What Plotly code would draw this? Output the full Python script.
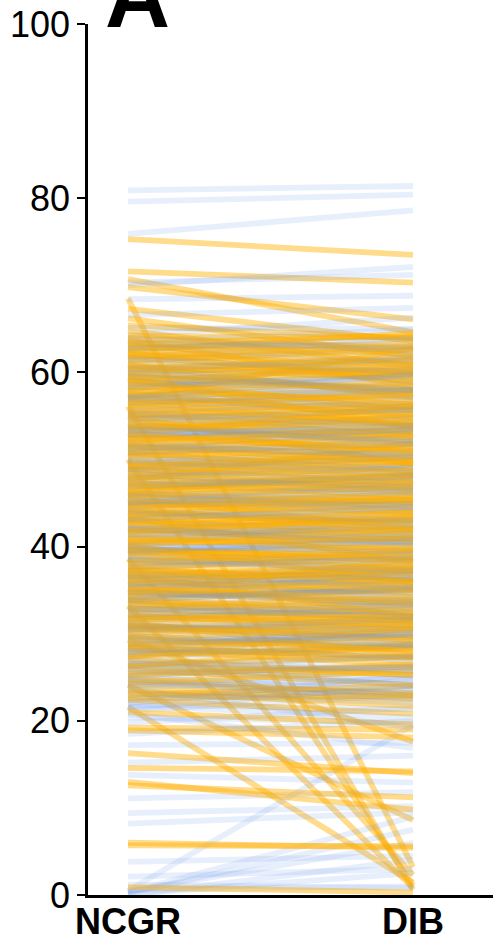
import plotly.graph_objects as go

# Paired scores per subject: value at NCGR and value at DIB
orange_ncgr = [75.3, 71.6, 70.7, 69.8, 68.5, 67.3, 66.2, 65.4, 64.8, 64.2, 63.7, 63.1, 62.8, 62.2,
               61.4, 60.9, 60.3, 59.8, 59.1, 58.7, 58.2, 57.6, 57.3, 56.6, 56.1, 55.7, 55.2, 54.6,
               54.1, 53.4, 53.0, 52.3, 51.9, 51.2, 50.8, 50.4, 50.0, 49.6, 49.1, 48.4, 47.9, 47.3,
               46.8, 46.2, 45.8, 45.1, 44.7, 44.0, 43.6, 43.1, 42.5, 42.0, 41.4, 40.9, 40.3, 39.8,
               39.2, 38.6, 38.1, 37.6, 37.0, 36.5, 36.0, 35.4, 34.9, 34.3, 33.8, 33.2, 32.7, 32.1,
               31.6, 31.0, 30.4, 29.8, 29.3, 28.8, 28.2, 27.7, 27.1, 26.5, 25.9, 25.4, 24.8, 24.1,
               23.6, 23.0, 22.4, 21.6, 21.0, 19.2, 18.9, 16.3, 14.6, 13.0, 12.6, 6.0, 5.7, 0.9,
               61.8, 58.9, 56.9, 53.7, 51.5, 48.9, 46.4, 44.3, 41.7, 39.5, 37.3, 35.7, 33.5, 30.9,
               28.5, 26.2, 24.4, 62.5, 57.0, 52.7, 47.6, 43.3, 40.1, 36.8, 34.6, 31.3, 27.3, 54.9,
               59.4, 45.5,
               63.4, 62.0, 60.6, 59.6, 57.9, 56.3, 55.4, 53.8, 52.5, 51.7, 50.6, 49.3, 48.1, 47.1,
               46.0, 44.9, 43.8, 42.8, 41.9, 40.6, 39.6, 38.4, 37.4, 36.2, 35.1, 33.9, 32.9, 31.8,
               30.6, 29.5, 28.4, 27.4, 26.3, 25.2, 24.2, 23.3, 22.6,
               64.0, 63.3, 62.6, 61.9, 61.1, 60.4, 59.9, 59.2, 58.5, 57.8, 57.1, 56.4, 55.9, 55.0,
               54.4, 53.6, 52.9, 52.1, 51.4, 50.7, 49.9, 49.2, 48.6, 47.7, 47.0, 46.3, 45.6, 44.8,
               44.2, 43.4, 42.7, 41.9, 41.1, 40.4, 39.7, 39.0, 38.2, 37.5, 36.7, 36.1, 35.3, 34.6,
               33.9, 33.1, 32.4, 31.7, 30.8, 30.1, 29.4, 28.7]
orange_dib = [73.5, 70.3, 64.6, 66.1, 3.2, 63.6, 61.8, 63.9, 60.7, 64.0, 58.4, 61.2, 63.3, 58.9,
              62.6, 57.1, 60.2, 61.4, 55.6, 58.3, 59.9, 54.8, 57.9, 53.9, 0.6, 56.4, 53.2, 55.8,
              51.7, 54.9, 51.0, 53.4, 50.2, 52.6, 48.7, 51.3, 1.1, 48.2, 50.7, 46.6, 49.1, 45.8,
              47.7, 44.6, 46.9, 43.9, 45.3, 42.8, 44.9, 41.6, 43.2, 40.4, 42.1, 39.5, 41.0, 38.3,
              40.1, 2.3, 37.0, 38.8, 35.4, 36.9, 34.7, 36.2, 33.3, 35.0, 32.1, 0.8, 33.6, 30.5,
              32.4, 29.3, 31.1, 28.1, 17.6, 29.7, 26.4, 28.3, 25.2, 27.4, 24.1, 26.2, 22.9, 8.6,
              22.4, 24.0, 20.8, 1.4, 19.6, 19.0, 18.1, 14.0, 14.2, 9.8, 11.2, 5.4, 5.6, 0.3,
              59.6, 60.8, 55.1, 52.5, 49.6, 47.3, 48.3, 41.9, 43.4, 37.6, 36.1, 37.4, 31.4, 32.0,
              27.2, 28.8, 25.7, 64.5, 62.8, 56.2, 51.9, 38.2, 35.9, 31.9, 38.6, 27.5, 30.7, 49.4,
              53.6, 42.1,
              62.1, 60.9, 59.3, 58.0, 56.7, 57.4, 54.0, 55.2, 51.3, 52.9, 49.5, 50.2, 47.0, 48.2,
              45.1, 46.0, 42.7, 43.9, 40.8, 41.9, 38.4, 39.6, 36.4, 37.2, 34.0, 35.1, 31.8, 33.0,
              29.6, 30.7, 27.3, 28.6, 25.3, 26.5, 23.2, 21.7, 22.9,
              62.7, 64.2, 60.2, 63.0, 59.8, 61.7, 57.7, 60.1, 56.3, 58.9, 55.9, 57.6, 54.4, 56.1,
              52.8, 54.2, 50.8, 53.7, 49.9, 52.0, 48.6, 47.9, 49.8, 46.4, 45.3, 47.4, 44.2, 43.5,
              45.6, 42.1, 41.2, 43.1, 39.7, 40.9, 38.8, 37.4, 39.3, 35.9, 37.8, 35.2, 33.6, 35.8,
              32.6, 34.2, 30.9, 31.6, 30.2, 31.4, 28.0, 29.1]

blue_ncgr = [80.9, 79.6, 75.9, 70.0, 70.3, 68.4, 66.6, 65.1, 64.3, 63.6, 62.9, 61.7, 61.0, 60.1,
             59.3, 58.4, 57.8, 56.9, 56.3, 55.4, 54.8, 53.9, 53.2, 52.6, 51.7, 51.0, 50.2, 49.4,
             48.7, 47.9, 47.1, 46.4, 45.6, 44.9, 44.1, 43.4, 42.7, 41.9, 41.2, 40.5, 39.7, 38.9,
             38.3, 37.4, 36.8, 36.0, 35.2, 34.5, 33.7, 33.0, 32.3, 31.5, 30.8, 30.0, 29.2, 28.5,
             27.8, 27.0, 26.3, 25.5, 24.8, 24.0, 23.3, 22.6, 21.9, 21.2, 20.4, 17.2, 15.2, 11.1,
             9.4, 3.8, 2.1, 0.5, 0.3, 0.2, 0.4, 0.0, 0.1, 0.6, 1.2,
             58.0, 55.0, 52.0, 49.0, 46.0, 43.0, 40.0, 37.0, 34.0, 31.0, 28.0, 25.0, 22.0, 19.8,
             18.5, 60.6, 50.6, 44.5, 39.0, 26.7, 23.7, 20.8, 35.5, 29.6, 13.8, 8.2,
             62.4, 61.3, 60.8, 59.7, 59.0, 58.6, 57.4, 57.0, 56.0, 55.7, 55.1, 54.3, 53.6, 53.0,
             52.4, 51.4, 50.9, 50.0, 49.7, 48.9, 48.2, 47.5, 47.0, 46.2, 45.9, 45.3, 44.6, 43.8,
             43.2, 42.4, 42.0, 41.5, 40.8, 40.2, 39.4, 38.6, 38.0, 37.2, 36.6, 35.8, 35.3, 34.7,
             34.2, 33.4, 32.8, 32.0, 31.7, 30.9, 30.3, 29.5, 29.0, 28.3, 27.6, 26.9, 26.4, 25.7,
             25.1, 24.3, 23.8, 23.1, 22.4, 21.7, 60.0, 57.1, 54.0, 51.3, 48.4, 45.0, 42.2, 39.3,
             36.3, 33.6, 30.6, 27.9, 24.6, 21.5, 63.2, 44.8, 38.8, 32.6, 26.0, 53.3,
             63.9, 62.7, 61.6, 60.4, 59.5, 58.3, 57.2, 56.5, 55.3, 54.6, 53.5, 52.8, 51.6, 50.8,
             49.8, 48.9, 47.7, 46.9, 45.8, 45.1, 44.0, 43.1, 42.1, 41.3, 40.1, 39.6, 38.5, 37.7,
             36.5, 35.6, 34.8, 33.9, 32.9, 32.2, 31.2, 30.5, 29.7, 28.8]
blue_dib = [81.4, 80.4, 78.6, 72.1, 71.2, 68.8, 67.4, 65.0, 66.3, 64.9, 62.1, 63.8, 60.4, 62.0,
            58.6, 60.7, 56.9, 58.8, 55.4, 57.3, 54.1, 55.9, 52.4, 54.3, 51.1, 53.0, 49.6, 51.4,
            48.0, 50.0, 46.5, 48.6, 45.0, 47.0, 43.6, 45.6, 42.0, 44.1, 40.5, 42.6, 39.2, 41.0,
            37.6, 39.5, 36.1, 38.0, 34.7, 36.6, 33.1, 35.0, 31.6, 33.4, 30.1, 32.0, 28.6, 30.5,
            27.1, 29.0, 25.6, 27.5, 24.2, 26.0, 22.7, 24.6, 21.3, 23.0, 19.8, 17.5, 16.0, 11.8,
            10.2, 4.5, 3.0, 19.5, 9.0, 7.5, 6.0, 4.0, 2.5, 1.0, 0.8,
            61.9, 52.7, 55.2, 47.2, 49.5, 41.3, 43.5, 35.2, 37.3, 29.4, 31.3, 23.4, 25.3, 21.5,
            20.0, 57.4, 48.8, 46.2, 36.8, 24.0, 19.2, 16.9, 33.0, 26.9, 12.9, 9.5,
            61.0, 62.9, 59.1, 60.3, 57.2, 59.5, 58.1, 55.6, 57.5, 54.3, 56.7, 53.1, 54.7, 51.8,
            53.5, 50.6, 52.1, 49.0, 50.9, 47.7, 49.3, 46.1, 48.0, 45.2, 46.8, 44.1, 45.4, 42.6,
            44.3, 41.1, 43.0, 40.1, 41.7, 39.0, 40.5, 37.9, 39.1, 36.3, 37.5, 34.6, 36.2, 33.5,
            35.3, 32.4, 33.9, 31.0, 32.8, 29.8, 31.4, 28.3, 30.1, 27.4, 28.7, 25.8, 27.3, 24.7,
            26.3, 23.1, 24.9, 22.1, 23.6, 20.4, 58.0, 59.8, 52.0, 53.6, 46.3, 47.6, 40.2, 41.6,
            34.2, 35.9, 28.7, 30.0, 22.5, 24.0, 63.0, 44.9, 38.7, 32.5, 26.1, 53.2,
            62.5, 63.9, 60.0, 61.5, 57.9, 59.6, 56.1, 58.0, 53.8, 55.7, 52.2, 53.9, 50.4, 51.8,
            48.4, 50.3, 46.9, 48.1, 44.5, 46.3, 43.0, 44.6, 40.9, 42.4, 39.4, 40.7, 37.2, 38.6,
            35.4, 36.8, 33.8, 35.2, 31.9, 33.3, 30.4, 31.7, 28.8, 29.9]

categories = ["NCGR", "DIB"]
cat_pos = [0, 1]

ORANGE = "rgba(255,176,0,0.45)"
BLUE = "rgba(100,149,237,0.15)"

fig = go.Figure()

def add_line(a, b, color):
    fig.add_trace(go.Scatter(x=cat_pos, y=[a, b], mode="lines",
                             line=dict(color=color, width=5.8),
                             hoverinfo="skip", showlegend=False))

orange_pairs = list(zip(orange_ncgr, orange_dib))
blue_pairs = list(zip(blue_ncgr, blue_dib))

# large drops go first so the rest of the bundle sits over them
drops = [p for p in orange_pairs if p[0] - p[1] > 10]
orange_rest = [p for p in orange_pairs if p[0] - p[1] <= 10]
for a, b in drops:
    add_line(a, b, ORANGE)

# remaining subjects interleaved by group
for i in range(max(len(orange_rest), len(blue_pairs))):
    if i < len(blue_pairs):
        add_line(*blue_pairs[i], BLUE)
    if i < len(orange_rest):
        add_line(*orange_rest[i], ORANGE)

fig.update_layout(
    width=493, height=944,
    margin=dict(l=88, r=0, t=24, b=49),
    plot_bgcolor="white", paper_bgcolor="white",
    font=dict(family="Liberation Sans, Arial, sans-serif", color="black"),
    xaxis=dict(range=[-0.1404, 1.2807], tickvals=cat_pos,
               ticktext=[f"<b>{c}</b>" for c in categories],
               tickfont=dict(size=36), ticklabelstandoff=-7,
               showline=True, linewidth=2.5, linecolor="black",
               ticks="", showgrid=False, zeroline=False, automargin=False),
    yaxis=dict(range=[0, 100], tickvals=[0, 20, 40, 60, 80, 100],
               tickfont=dict(size=36), showline=True, linewidth=2.5, linecolor="black",
               ticks="outside", ticklen=8, tickwidth=2, tickcolor="black",
               showgrid=False, zeroline=False, automargin=False),
    annotations=[dict(text="<b>A</b>", xref="paper", yref="paper", x=0.038, y=0.972,
                      xanchor="left", yanchor="bottom", showarrow=False,
                      font=dict(size=90, color="black"))],
)

fig.write_html("out.html")
